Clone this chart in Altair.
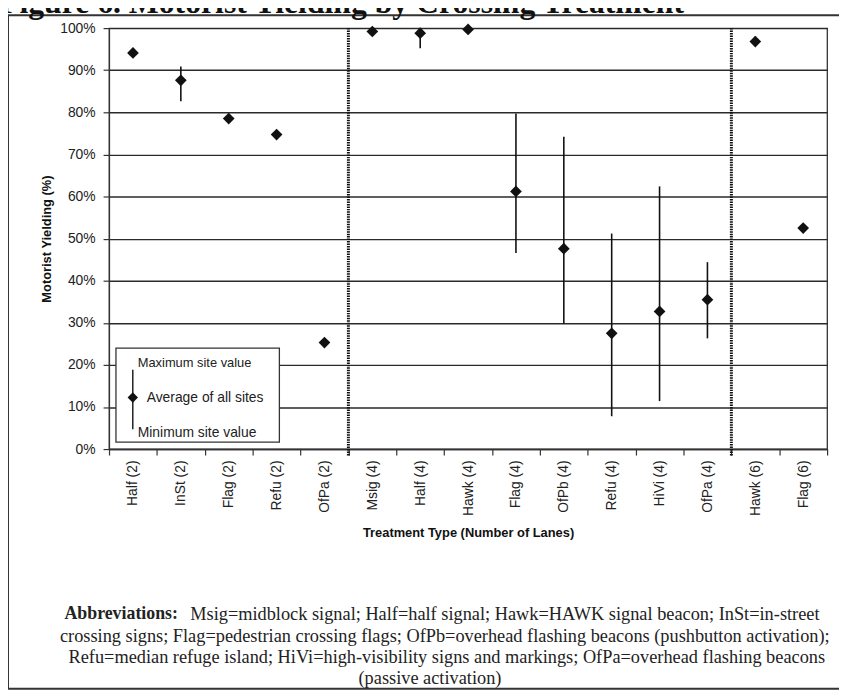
import altair as alt
import pandas as pd

categories = ["Half (2)", "InSt (2)", "Flag (2)", "Refu (2)", "OfPa (2)",
              "Msig (4)", "Half (4)", "Hawk (4)", "Flag (4)", "OfPb (4)",
              "Refu (4)", "HiVi (4)", "OfPa (4)", "Hawk (6)", "Flag (6)"]
avg_yield = [94.1, 87.6, 78.5, 74.7, 25.3, 99.2, 98.8, 99.7, 61.2, 47.6, 27.5, 32.7, 35.5, 96.8, 52.5]
max_yield = [94.1, 90.9, 78.5, 74.7, 25.3, 99.2, 99.8, 99.7, 79.7, 74.2, 51.2, 62.4, 44.4, 98.0, 53.0]
min_yield = [94.1, 82.6, 78.5, 74.7, 25.3, 98.3, 95.2, 99.7, 46.6, 29.8, 7.8, 11.4, 26.3, 95.8, 52.0]
group_starts = ["Msig (4)", "Hawk (6)"]
y_ticks = [0, 0.1, 0.2, 0.3, 0.4, 0.5, 0.6, 0.7, 0.8, 0.9, 1.0]

title_text = "Figure 6. Motorist Yielding by Crossing Treatment"
legend_labels = ["Maximum site value", "Average of all sites", "Minimum site value"]
abbrev_head = "Abbreviations:"
abbrev_lines = [
    "Msig=midblock signal; Half=half signal; Hawk=HAWK signal beacon; InSt=in-street",
    "crossing signs; Flag=pedestrian crossing flags; OfPb=overhead flashing beacons (pushbutton activation);",
    "Refu=median refuge island; HiVi=high-visibility signs and markings; OfPa=overhead flashing beacons",
    "(passive activation)",
]

W, H = 725, 425
SANS = "Liberation Sans"
SERIF = "Liberation Serif"

df = pd.DataFrame({
    "cat": categories,
    "avg": [v / 100 for v in avg_yield],
    "max": [v / 100 for v in max_yield],
    "min": [v / 100 for v in min_yield],
})
sep_df = pd.DataFrame({"cat": group_starts})
one = alt.Data(values=[{"k": 1}])

xscale = alt.Scale(type="band", domain=categories, paddingInner=0, paddingOuter=0)
yscale = alt.Scale(domain=[0, 1], nice=False, zero=True)

x_axis = alt.Axis(
    title="Treatment Type (Number of Lanes)", titleFont=SANS, titleFontSize=13,
    titleFontWeight="bold", titleColor="#111", titleY=84, titleBaseline="middle",
    labelAngle=-90, labelFont=SANS, labelFontSize=14, labelColor="#222",
    labelPadding=5, tickBand="extent", tickSize=6, tickColor="#333", tickWidth=1.2,
    domainColor="#333", domainWidth=1.2, grid=False,
)
y_axis = alt.Axis(
    title="Motorist Yielding (%)", titleFont=SANS, titleFontSize=13,
    titleFontWeight="bold", titleColor="#111", titleX=-63, titleY=H / 2,
    titleAlign="center", titleBaseline="middle",
    format="%", values=y_ticks, labelFont=SANS, labelFontSize=14, labelColor="#222",
    labelPadding=8, tickSize=6, tickColor="#333", tickWidth=1.2,
    domainColor="#333", domainWidth=1.2,
    grid=True, gridColor="#2a2a2a", gridWidth=1.4,
)

x_enc = alt.X("cat:N", scale=xscale, axis=x_axis, sort=categories)
x_plain = alt.X("cat:N", scale=xscale, sort=categories)

bars = alt.Chart(df).mark_rule(color="#111", strokeWidth=1.6).encode(
    x=x_enc,
    y=alt.Y("min:Q", scale=yscale, axis=y_axis),
    y2="max:Q",
)
points = alt.Chart(df).mark_point(shape="diamond", filled=True, size=140, color="#111", opacity=1).encode(
    x=x_plain,
    y=alt.Y("avg:Q", scale=yscale),
)
seps = alt.Chart(sep_df).mark_rule(color="#111", strokeWidth=3, strokeDash=[1.5, 1]).encode(
    x=alt.X("cat:N", scale=xscale, sort=categories, bandPosition=0),
    y=alt.value(0), y2=alt.value(432),
)

legend_box = alt.Chart(one).mark_rect(fill="white", stroke="#333", strokeWidth=1.3).encode(
    x=alt.value(7), x2=alt.value(172), y=alt.value(323), y2=alt.value(418)
)
legend_line = alt.Chart(one).mark_rule(color="#111", strokeWidth=1.4).encode(
    x=alt.value(24), y=alt.value(345), y2=alt.value(405)
)
legend_pt = alt.Chart(one).mark_point(shape="diamond", filled=True, size=110, color="#111", opacity=1).encode(
    x=alt.value(24), y=alt.value(373)
)
leg_max = alt.Chart(one).mark_text(align="left", baseline="middle", font=SANS, fontSize=13, color="#222").encode(
    x=alt.value(29), y=alt.value(338), text=alt.value(legend_labels[0])
)
leg_avg = alt.Chart(one).mark_text(align="left", baseline="middle", font=SANS, fontSize=14, color="#222").encode(
    x=alt.value(38), y=alt.value(373), text=alt.value(legend_labels[1])
)
leg_min = alt.Chart(one).mark_text(align="left", baseline="middle", font=SANS, fontSize=14, color="#222").encode(
    x=alt.value(29), y=alt.value(409), text=alt.value(legend_labels[2])
)

frame = alt.Chart(one).mark_rect(fill=None, stroke="#333", strokeWidth=2).encode(
    x=alt.value(-102), x2=alt.value(760), y=alt.value(-13), y2=alt.value(667)
)
title = alt.Chart(one).mark_text(align="left", baseline="alphabetic", font=SERIF, fontSize=32,
                                 fontWeight="bold", color="#111").encode(
    x=alt.value(-110), y=alt.value(-15), text=alt.value(title_text)
)

abbr_head = alt.Chart(one).mark_text(align="left", baseline="middle", font=SERIF, fontSize=18,
                                     fontWeight="bold", color="#222").encode(
    x=alt.value(-45), y=alt.value(592), text=alt.value(abbrev_head)
)
abbr1 = alt.Chart(one).mark_text(align="left", baseline="middle", font=SERIF, fontSize=18.5, color="#222").encode(
    x=alt.value(82), y=alt.value(592), text=alt.value(abbrev_lines[0])
)
abbr_rest = [
    alt.Chart(one).mark_text(align="center", baseline="middle", font=SERIF, fontSize=18.5, color="#222").encode(
        x=alt.value(xx), y=alt.value(yy), text=alt.value(t)
    )
    for t, xx, yy in zip(abbrev_lines[1:], [339, 341, 324], [614, 635, 656])
]

chart = alt.layer(
    bars, points, seps, legend_box, legend_line, legend_pt, leg_max, leg_avg, leg_min,
    frame, title, abbr_head, abbr1, *abbr_rest
).properties(
    width=W, height=H,
    autosize=alt.AutoSizeParams(type="none"),
    padding={"left": 102, "top": 17, "right": 12, "bottom": 246},
    background="white",
).configure_view(stroke="#333", strokeWidth=1.3)

chart.save("out.html", embed_options={"renderer": "svg", "actions": False})
